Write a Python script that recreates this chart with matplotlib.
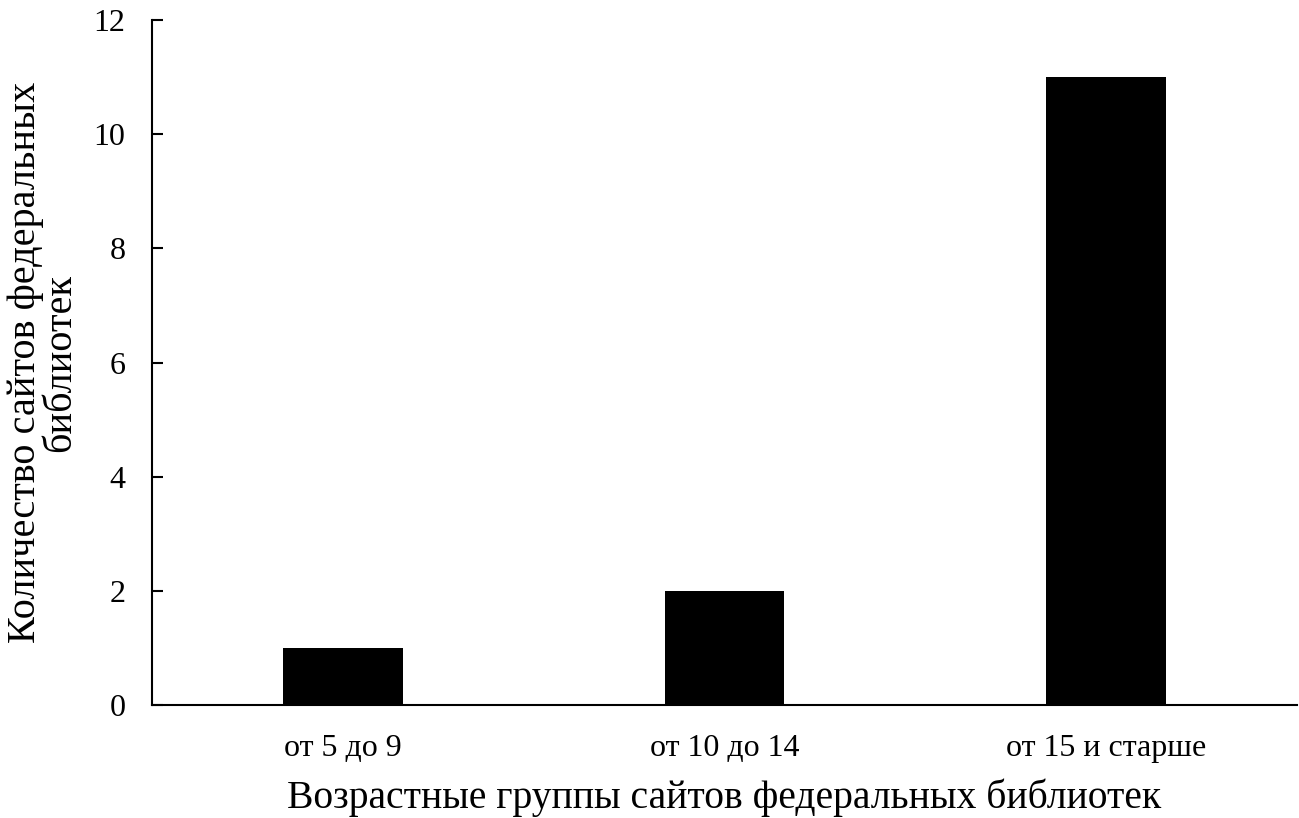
import matplotlib
matplotlib.use("Agg")
import matplotlib.pyplot as plt

categories = ["от 5 до 9", "от 10 до 14", "от 15 и старше"]
counts = [1, 2, 11]
y_ticks = [0, 2, 4, 6, 8, 10, 12]

plt.rcParams["font.family"] = ["Liberation Serif", "DejaVu Serif"]

fig = plt.figure(figsize=(12.99, 8.18), dpi=100)
ax = fig.add_axes([152 / 1299, 113 / 818, 1145 / 1299, 685 / 818])

x = range(len(categories))
ax.bar(x, counts, width=0.313, color="black")

ax.set_xlim(-0.5, len(categories) - 0.5)
ax.set_ylim(0, 12)
ax.set_yticks(y_ticks)
ax.set_xticks(list(x))
ax.set_xticklabels(categories, fontsize=23)
ax.tick_params(axis="x", length=0, pad=21)
ax.tick_params(axis="y", direction="in", length=8, width=1.5, labelsize=23, pad=19)

for side in ("top", "right"):
    ax.spines[side].set_visible(False)
for side in ("left", "bottom"):
    ax.spines[side].set_linewidth(1.5)

ax.set_xlabel("Возрастные группы сайтов федеральных библиотек", fontsize=28.5, labelpad=11)
ax.set_ylabel("Количество сайтов федеральных\nбиблиотек", fontsize=29,
              linespacing=0.95, va="center")
ax.yaxis.set_label_coords(-0.095, 0.5)

fig.savefig("out.png", dpi=100)
